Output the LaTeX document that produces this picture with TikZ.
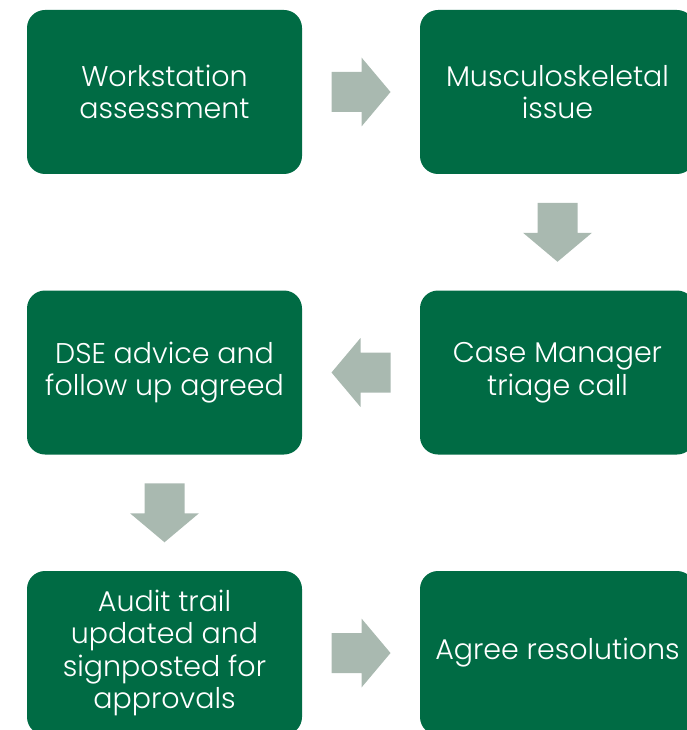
\documentclass[tikz,border=0pt]{standalone}
\usepackage{fontspec}
\setmainfont{Poppins Light}
\usetikzlibrary{calc}
\definecolor{boxgreen}{RGB}{0,107,68}
\definecolor{arrowgrey}{RGB}{169,185,176}
\begin{document}
\begin{tikzpicture}[x=1pt,y=-1pt,
	stepbox/.style={fill=boxgreen, rounded corners=18pt, minimum width=275pt, minimum height=164pt, inner sep=0pt, text=white, align=center, font=\fontsize{28.5}{32.5}\selectfont},
	blockarrow/.pic={\fill[arrowgrey] (-29.5,-20) -- (0.5,-20) -- (0.5,-34.5) -- (29.5,0) -- (0.5,34.5) -- (0.5,20) -- (-29.5,20) -- cycle;}]
	\clip (0,0) rectangle (687,730);
	\node[stepbox] (ws) at (164.5,92) {Workstation\\assessment};
	\node[stepbox] (mi) at (557.5,92) {Musculoskeletal\\issue};
	\node[stepbox] (cm) at (557.5,372.5) {Case Manager\\triage call};
	\node[stepbox] (dse) at (164.5,372.5) {DSE advice and\\follow up agreed};
	\node[stepbox] (au) at (164.5,653) {Audit trail\\updated and\\signposted for\\approvals};
	\node[stepbox] (ag) at (557.5,653) {Agree resolutions};
	\pic (a1) at ($(ws.east)!0.5!(mi.west)$) {blockarrow};
	\pic[rotate=-90] (a2) at ($(mi.south)!0.5!(cm.north)$) {blockarrow};
	\pic[rotate=180] (a3) at ($(cm.west)!0.5!(dse.east)$) {blockarrow};
	\pic[rotate=-90] (a4) at ($(dse.south)!0.5!(au.north)$) {blockarrow};
	\pic (a5) at ($(au.east)!0.5!(ag.west)$) {blockarrow};
\end{tikzpicture}
\end{document}
